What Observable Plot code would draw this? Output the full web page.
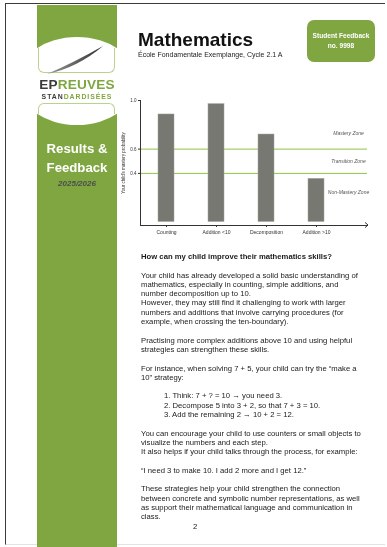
<!DOCTYPE html>
<html>
<head>
<meta charset="utf-8">
<script src="https://cdn.jsdelivr.net/npm/d3@7"></script>
<script src="https://cdn.jsdelivr.net/npm/@observablehq/plot@0.6"></script>
<style>
  html, body { margin: 0; padding: 0; background: #fff; }
  body { width: 387px; height: 547px; overflow: hidden; position: relative; font-family: Arial, "Liberation Sans", Helvetica, sans-serif; color: #111; }
  .abs { position: absolute; }
  .gs { will-change: transform; -webkit-font-smoothing: antialiased; }
  #page { left: 5px; top: 3px; width: 380px; height: 542px; border-left: 1.5px solid #3a3a3a; border-top: 1.5px solid #3a3a3a; border-bottom: 1px solid #e2e2e2; box-sizing: border-box; }
  #sidebar { left: 37px; top: 5px; width: 80px; height: 542px; background: #7fa640; overflow: hidden; }
  #ellipse { left: -20px; top: 32px; width: 120px; height: 88px; border-radius: 50%; background: #fff; }
  .frameTop { left: 1px; top: 43px; width: 77px; height: 25px; border: 1px solid #b7d48e; border-top: none; border-radius: 0 0 6px 6px; box-sizing: border-box; }
  .frameBot { left: 1px; top: 98px; width: 77px; height: 11px; border: 1px solid #b7d48e; border-bottom: none; border-radius: 6px 6px 0 0; box-sizing: border-box; }
  #logo1 { left: 0; width: 80px; top: 73px; text-align: center; font-weight: bold; font-size: 13.6px; letter-spacing: 0.2px; line-height: 14px; white-space: nowrap; }
  #logo2 { left: 0; width: 80px; top: 88px; text-align: center; font-weight: bold; font-size: 6.9px; letter-spacing: 0.95px; line-height: 8px; white-space: nowrap; }
  .dk { color: #3b3b3b; } .gr { color: #7fa640; }
  #results { left: 0; width: 80px; top: 134px; text-align: center; color: #fff; font-weight: bold; font-size: 13.2px; line-height: 19px; }
  #year { left: 0; width: 80px; top: 174px; text-align: center; color: #4d4d4d; font-weight: bold; font-style: italic; font-size: 8px; line-height: 10px; }
  #title { left: 138px; top: 28.5px; font-weight: bold; font-size: 19px; color: #111; line-height: 22px; white-space: nowrap; }
  #subtitle { left: 138px; top: 51px; font-size: 7px; color: #222; line-height: 8px; white-space: nowrap; }
  #badge { left: 306.5px; top: 20px; width: 68px; height: 42px; border-radius: 7px; background: #7fa640; color: #fff; font-weight: bold; font-size: 6.6px; line-height: 10px; display: flex; align-items: center; justify-content: center; text-align: center; }
  #chart { left: 112px; top: 90px; width: 275px; height: 150px; }
  #txt { left: 141px; top: 251.9px; font-size: 7.7px; line-height: 9.3px; color: #1a1a1a; white-space: nowrap; }
  #txt b { font-weight: bold; }
  .ind { padding-left: 23px; }
  .pn { padding-left: 52px; }
</style>
</head>
<body>
<div id="page" class="abs"></div>
<div id="sidebar" class="abs gs">
  <div id="ellipse" class="abs"></div>
  <div class="abs frameTop"></div>
  <div class="abs frameBot"></div>
  <svg class="abs" style="left:0;top:0" width="80" height="80">
    <defs>
      <linearGradient id="sw" x1="0" x2="1" y1="0" y2="0">
        <stop offset="0" stop-color="#9a9a9a"/>
        <stop offset="1" stop-color="#2e2e2e"/>
      </linearGradient>
    </defs>
    <path d="M10,69 Q36,58 66,41 Q40,63 10,69 Z" fill="url(#sw)"/>
  </svg>
  <div id="logo1" class="abs"><span class="dk">EP</span><span class="gr">REUVES</span></div>
  <div id="logo2" class="abs"><span class="dk">STAN</span><span class="gr">DARDISÉES</span></div>
  <div id="results" class="abs">Results &amp;<br>Feedback</div>
  <div id="year" class="abs">2025/2026</div>
</div>
<div id="title" class="abs gs">Mathematics</div>
<div id="subtitle" class="abs gs">École Fondamentale Exemplange, Cycle 2.1 A</div>
<div id="badge" class="abs gs"><div>Student Feedback<br>no. 9998</div></div>
<div id="chart" class="abs gs"></div>
<div id="txt" class="abs gs">
<b>How can my child improve their mathematics skills?</b><br>
<br>
Your child has already developed a solid basic understanding of<br>
mathematics, especially in counting, simple additions, and<br>
number decomposition up to 10.<br>
However, they may still find it challenging to work with larger<br>
numbers and additions that involve carrying procedures (for<br>
example, when crossing the ten-boundary).<br>
<br>
Practising more complex additions above 10 and using helpful<br>
strategies can strengthen these skills.<br>
<br>
For instance, when solving 7 + 5, your child can try the “make a<br>
10” strategy:<br>
<br>
<span class="ind">1. Think: 7 + ? = 10 → you need 3.</span><br>
<span class="ind">2. Decompose 5 into 3 + 2, so that 7 + 3 = 10.</span><br>
<span class="ind">3. Add the remaining 2 → 10 + 2 = 12.</span><br>
<br>
You can encourage your child to use counters or small objects to<br>
visualize the numbers and each step.<br>
It also helps if your child talks through the process, for example:<br>
<br>
“I need 3 to make 10. I add 2 more and I get 12.”<br>
<br>
These strategies help your child strengthen the connection<br>
between concrete and symbolic number representations, as well<br>
as support their mathematical language and communication in<br>
class.<br>
<span class="pn">2</span>
</div>
<script>
const categories = ["Counting", "Addition <10", "Decomposition", "Addition >10"];
const masteryValues = [0.885, 0.97, 0.72, 0.355];
const yTickValues = [0.4, 0.6, 1.0];
const zoneThresholds = [0.6, 0.4];
const zoneLabels = ["Mastery Zone", "Transition Zone", "Non-Mastery Zone"];
const zoneLabelLevels = [0.73, 0.5, 0.245];
const yAxisLabel = "Your child's mastery probability";

const data = categories.map((c, i) => ({category: c, value: masteryValues[i]}));

function arrowHead(index, scales, values, dimensions) {
  const {width, height, marginRight, marginBottom} = dimensions;
  const x = width - marginRight + 1, y = height - marginBottom;
  const p = document.createElementNS("http://www.w3.org/2000/svg", "path");
  p.setAttribute("d", `M${x - 3},${y - 2.6}L${x},${y}L${x - 3},${y + 2.6}`);
  p.setAttribute("fill", "none");
  p.setAttribute("stroke", "#333");
  p.setAttribute("stroke-width", "1");
  return p;
}

const chart = Plot.plot({
  width: 275,
  height: 150,
  marginLeft: 28,
  marginRight: 20,
  marginTop: 10,
  marginBottom: 15,
  style: {fontFamily: "Arial, 'Liberation Sans', sans-serif", background: "transparent", overflow: "visible", color: "#333"},
  x: {domain: categories, range: [28, 229.5], paddingInner: 0.673, paddingOuter: 0.332, align: 0.5},
  y: {domain: [0, 1], range: [131.5, 10]},
  marks: [
    Plot.ruleY(zoneThresholds, {stroke: "#8cc63f", strokeWidth: 1}),
    Plot.barY(data, {x: "category", y: "value", fill: "#787873", stroke: "#a3a39e", strokeWidth: 0.5}),
    Plot.frame({anchor: "left", stroke: "#333"}),
    Plot.frame({anchor: "bottom", stroke: "#333"}),
    arrowHead,
    Plot.axisX({tickSize: 2, tickPadding: 3, fontSize: 5, label: null, fill: "#333"}),
    Plot.axisY({ticks: yTickValues, tickFormat: d3.format(".1f"), tickSize: 2, tickPadding: 2, fontSize: 4.5, label: yAxisLabel, labelAnchor: "center", labelOffset: 19, labelArrow: "none", fill: "#333"}),
    Plot.text(zoneLabels, {y: zoneLabelLevels, text: d => d, frameAnchor: "right", textAnchor: "middle", dx: -19, fontStyle: "italic", fontSize: 5, fill: "#555"})
  ]
});
document.getElementById("chart").appendChild(chart);
</script>
</body>
</html>
